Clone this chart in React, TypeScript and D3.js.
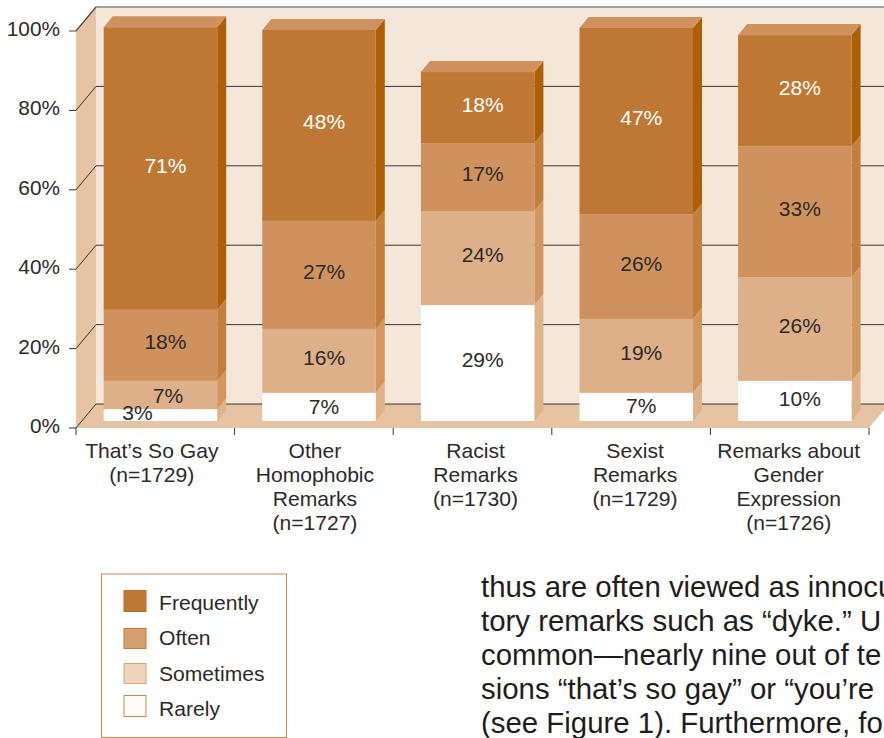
import React from "react";
import * as d3 from "d3";

const categories = [
  ["That’s So Gay", "(n=1729)"],
  ["Other", "Homophobic", "Remarks", "(n=1727)"],
  ["Racist", "Remarks", "(n=1730)"],
  ["Sexist", "Remarks", "(n=1729)"],
  ["Remarks about", "Gender", "Expression", "(n=1726)"],
];
const rarely = [3.0, 7.1, 29.2, 7.1, 10.1];
const sometimes = [7.1, 16.1, 23.7, 18.6, 26.1];
const often = [17.9, 27.2, 17.1, 26.4, 33.0];
const frequently = [71.2, 48.1, 17.9, 46.9, 28.0];
const seriesNames = ["Rarely", "Sometimes", "Often", "Frequently"];
const yTicks = [0, 20, 40, 60, 80, 100];
const legendNames = ["Frequently", "Often", "Sometimes", "Rarely"];
const bodyLines = [
  "thus are often viewed as innocu",
  "tory remarks such as “dyke.” U",
  "common—nearly nine out of te",
  "sions “that’s so gay” or “you’re",
  "(see Figure 1). Furthermore, fo",
];

const W = 884, H = 738;
const FONT = "'Liberation Sans', Arial, sans-serif";
const INK = "#2c2a29";
const front = ["#ffffff", "#DEB08A", "#CF925F", "#BE7833"];
const side = ["#DFB38A", "#D2975F", "#C47F3C", "#AE5F05"];
const textFill = [INK, INK, INK, "#ffffff"];
const legendFill: Record<string, [string, string]> = {
  Frequently: ["#BE7833", "#B96F28"],
  Often: ["#D5A070", "#C27D39"],
  Sometimes: ["#EFD3BC", "#D8A877"],
  Rarely: ["#FDFBF7", "#C9894F"],
};
const legendSwatchY: Record<string, [number, number]> = {
  Frequently: [590, 612], Often: [628, 649], Sometimes: [663, 684], Rarely: [695, 717],
};
const legendBase: Record<string, number> = { Frequently: 610, Often: 645, Sometimes: 681, Rarely: 716 };

export default function App() {
  const y = d3.scaleLinear().domain([0, 100]).range([428, 31]);
  const x = d3.scaleBand<number>().domain(d3.range(5)).range([76, 869]).paddingInner(0).paddingOuter(0);
  const rows = categories.map((_, i) => ({ i, Rarely: rarely[i], Sometimes: sometimes[i], Often: often[i], Frequently: frequently[i] }));
  const stack = d3.stack<any>().keys(seriesNames)(rows);

  const wallDx = 20, wallDy = -24;
  const barInset = 27.7, barW = 113.5, barLift = 7, depthX = 9, depthY = -11;
  const left = x.range()[0], right = x.range()[1];
  const y0 = y(0), y100 = y(100);
  const bx = (i: number) => (x(i) as number) + barInset;
  const by = (v: number) => y(v) - barLift;
  const pts = (a: number[][]) => a.map((p) => p.join(",")).join(" ");
  const labelDx: Record<string, number> = { "0-0": -23, "0-1": 7.5 };
  const labelDy: Record<string, number> = { "0-0": 1, "0-1": 4, "1-0": 3.5, "3-0": 2.5, "4-0": 1 };
  const catDx = [-3.5, 1, 3, 4, -1];

  return (
    <svg width={W} height={H} viewBox={`0 0 ${W} ${H}`} style={{ position: "absolute", left: 0, top: 0, display: "block", fontFamily: FONT }}>
      <rect width={W} height={H} fill="#fff" />
      <polygon points={pts([[left + wallDx, y100 + wallDy], [right + wallDx, y100 + wallDy], [right + wallDx, y0 + wallDy], [left + wallDx, y0 + wallDy]])} fill="#F5E6DA" />
      <polygon points={pts([[left, y100], [left + wallDx, y100 + wallDy], [left + wallDx, y0 + wallDy], [left, y0]])} fill="#E5C3A3" />
      <polygon points={pts([[left, y0], [left + wallDx, y0 + wallDy], [right + wallDx, y0 + wallDy], [right, y0]])} fill="#E5C3A3" />

      {yTicks.map((t) => {
        const c = t === 100 ? "#8d847c" : "#3a3534";
        const sw = t === 100 ? 1.6 : 1;
        return (
          <g key={t}>
            <polyline points={pts([[left - 7, y(t)], [left, y(t)], [left + wallDx, y(t) + wallDy], [W + 10, y(t) + wallDy]])} fill="none" stroke={c} strokeWidth={sw} />
            {t === 100 && <line x1={left} y1={y(t)} x2={left + wallDx} y2={y(t) + wallDy} stroke="#3a3534" strokeWidth={1} />}
            <text x={60} y={y(t) + 5} textAnchor="end" fontSize={20.8} fill={INK}>{t}%</text>
          </g>
        );
      })}
      {d3.range(6).map((k) => {
        const tx = left + x.step() * k;
        return <line key={k} x1={tx} x2={tx} y1={y0} y2={y0 + 7} stroke="#3a3534" strokeWidth={1} />;
      })}

      {categories.map((_, i) => (
        <g key={i}>
          {stack.map((s, j) => {
            const [a, b] = s[i];
            const X = bx(i);
            return (
              <g key={j}>
                <polygon points={pts([[X + barW, by(a)], [X + barW + depthX, by(a) + depthY], [X + barW + depthX, by(b) + depthY], [X + barW, by(b)]])} fill={side[j]} />
                <rect x={X} y={by(b)} width={barW} height={by(a) - by(b)} fill={front[j]} />
              </g>
            );
          })}
          {(() => {
            const top = by(stack[3][i][1]);
            const X = bx(i);
            return <polygon points={pts([[X, top], [X + depthX, top + depthY], [X + barW + depthX, top + depthY], [X + barW, top]])} fill="#CF925F" />;
          })()}
        </g>
      ))}

      {categories.map((_, i) =>
        stack.map((s, j) => {
          const [a, b] = s[i];
          const dx = labelDx[`${i}-${j}`] ?? 5;
          const dy = labelDy[`${i}-${j}`] ?? 0;
          return (
            <text key={`${i}-${j}`} x={bx(i) + barW / 2 + dx} y={(by(a) + by(b)) / 2 + 4 + dy} textAnchor="middle" fontSize={21} fill={textFill[j]}>
              {Math.round(b - a)}%
            </text>
          );
        })
      )}

      {categories.map((lines, i) => (
        <text key={i} textAnchor="middle" fontSize={21.1} fill={INK}>
          {lines.map((l, k) => (
            <tspan key={k} x={(x(i) as number) + x.bandwidth() / 2 + catDx[i]} y={458 + k * 24}>{l}</tspan>
          ))}
        </text>
      ))}

      <rect x={101.5} y={574} width={185} height={163.5} fill="#fff" stroke="#C58A4E" strokeWidth={1} />
      {legendNames.map((n) => {
        const [a, b] = legendSwatchY[n];
        return (
          <g key={n}>
            <rect x={124} y={a + 0.5} width={22} height={b - a - 1} fill={legendFill[n][0]} stroke={legendFill[n][1]} strokeWidth={1} />
            <text x={159} y={legendBase[n]} fontSize={21.1} fill={INK}>{n}</text>
          </g>
        );
      })}

      {bodyLines.map((l, k) => (
        <text key={k} x={481} y={597 + k * 33.9} fontSize={29.4} fill="#1f1d1c">{l}</text>
      ))}
    </svg>
  );
}
